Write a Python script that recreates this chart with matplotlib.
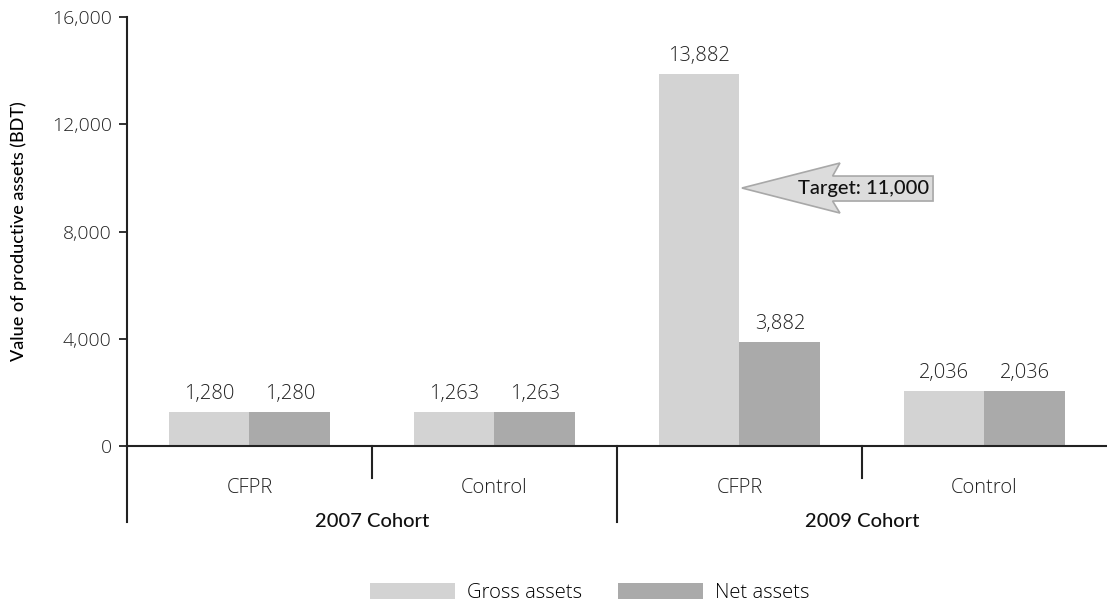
import matplotlib.pyplot as plt
import numpy as np
from matplotlib.patches import Polygon

categories = ["CFPR", "Control", "CFPR", "Control"]
cohorts = ["2007 Cohort", "2009 Cohort"]
gross = [1280, 1263, 13882, 2036]
net = [1280, 1263, 3882, 2036]
yticks = [0, 4000, 8000, 12000, 16000]
target_label = "Target: 11,000"

plt.rcParams["font.family"] = ["Lato", "DejaVu Sans"]
LIGHT = {"family": ["Open Sans", "DejaVu Sans"], "weight": "light"}

fig = plt.figure(figsize=(11.07, 6.07), dpi=100)
ax = fig.add_axes([0.1147, 0.2652, 0.8853, 0.7068])

x = np.arange(len(categories))
w = 0.33
c_gross, c_net = "#d3d3d3", "#aaaaaa"
b1 = ax.bar(x - w / 2, gross, w, color=c_gross, label="Gross assets")
b2 = ax.bar(x + w / 2, net, w, color=c_net, label="Net assets")

for bars, vals in ((b1, gross), (b2, net)):
    for b, v in zip(bars, vals):
        ax.text(b.get_x() + b.get_width() / 2, v + 300, f"{v:,}", ha="center",
                va="bottom", fontsize=14.5, color="#222222", **LIGHT)

ax.set_xlim(-0.5, len(categories) - 0.5)
ax.set_ylim(0, 16000)
ax.set_yticks(yticks)
ax.set_yticklabels([f"{t:,}" for t in yticks], fontsize=14, color="#222222", **LIGHT)
ax.tick_params(axis="y", length=6, width=1.3, color="#222222", pad=5)
ax.set_xticks([])
for s in ("top", "right"):
    ax.spines[s].set_visible(False)
for s in ("left", "bottom"):
    ax.spines[s].set_linewidth(1.5)
    ax.spines[s].set_color("#222222")
ax.set_ylabel("Value of productive assets (BDT)", fontsize=13, fontweight="medium", labelpad=18)

# category separators below the axis
trans = ax.get_xaxis_transform()
for i in (1, 3):
    ax.plot([i - 0.5, i - 0.5], [0, -0.075], transform=trans, color="#222222", lw=1.5, clip_on=False)
for i in (0, 2):
    ax.plot([i - 0.5, i - 0.5], [0, -0.177], transform=trans, color="#222222", lw=1.5, clip_on=False)
for i, c in enumerate(categories):
    ax.text(i, -0.098, c, transform=trans, ha="center", va="center", fontsize=14.5,
            color="#222222", **LIGHT)
for j, c in enumerate(cohorts):
    ax.text(2 * j + 0.5, -0.177, c, transform=trans, ha="center", va="center",
            fontsize=14.5, fontweight="medium", color="#111111")

# target callout arrow
tip_x = x[2]
arrow = Polygon([[tip_x + 0.01, 9622], [tip_x + 0.41, 10554], [tip_x + 0.38, 10069],
                 [tip_x + 0.79, 10069], [tip_x + 0.79, 9137], [tip_x + 0.38, 9137],
                 [tip_x + 0.41, 8689]], closed=True, facecolor="#dcdcdc",
                edgecolor="#a8a8a8", lw=1.2)
ax.add_patch(arrow)
ax.text(tip_x + 0.775, 9610, target_label, ha="right", va="center", fontsize=14.5,
        fontweight="medium", color="#111111")

fig.legend(handles=[b1, b2], loc="center", bbox_to_anchor=(0.533, 0.023), ncol=2,
           frameon=False, handlelength=4.2, handleheight=0.8,
           columnspacing=1.8, handletextpad=0.6,
           prop={"family": ["Open Sans", "DejaVu Sans"], "weight": "light", "size": 14.5})

fig.savefig("out.png", dpi=100)
